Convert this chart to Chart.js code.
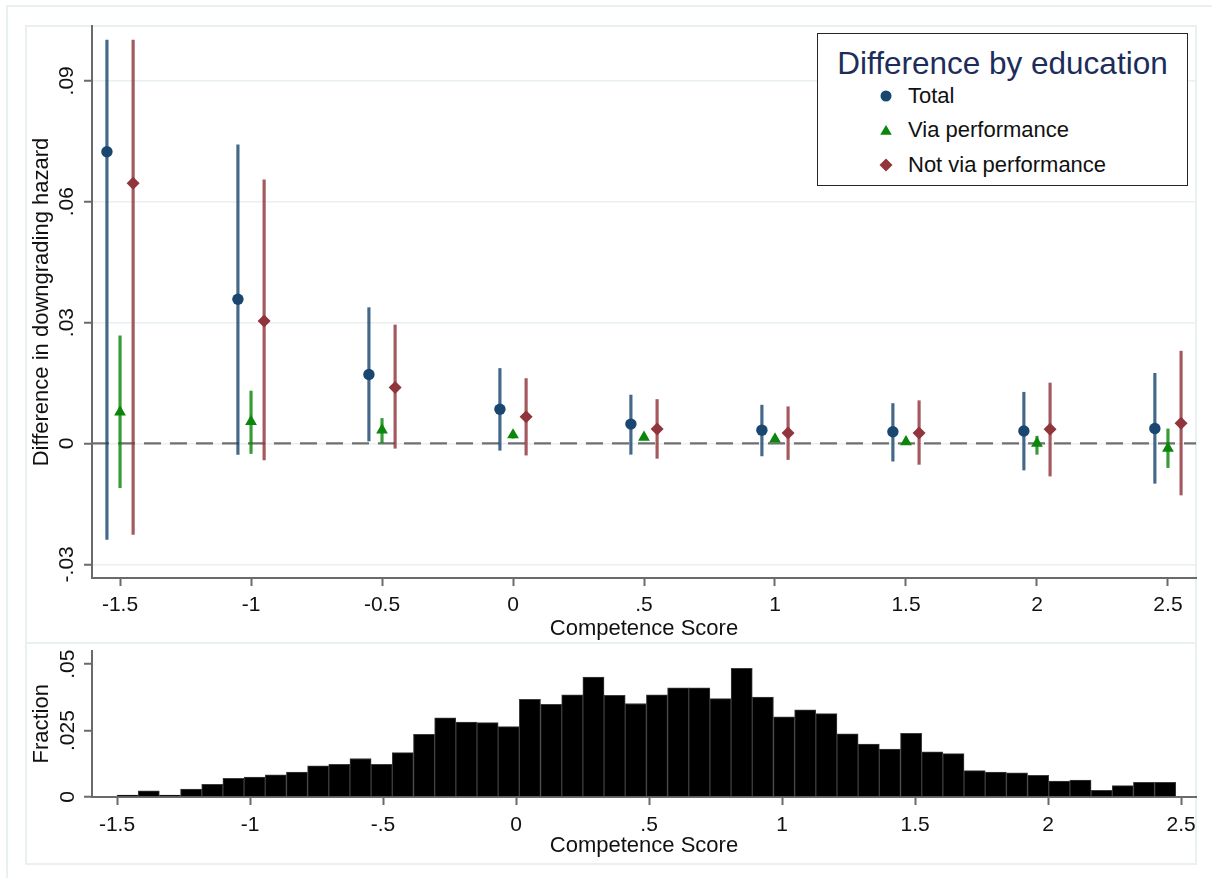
<!DOCTYPE html>
<html>
<head>
<meta charset="utf-8">
<title>Difference by education</title>
<script src="https://cdn.jsdelivr.net/npm/chart.js@4.4.1/dist/chart.umd.min.js"></script>
<style>
    body { margin: 0; background: #fff; font-family: "Liberation Sans", Arial, sans-serif; }
    #page { position: relative; width: 1212px; height: 878px; overflow: hidden; }
    .frame { position: absolute; box-sizing: border-box; border: 2px solid #e8f0f2; }
    #outer { left: 6px; top: 5px; width: 1300px; height: 1000px; }
    #topBox { left: 25px; top: 25px; width: 1172px; height: 619px; }
    #histBox { left: 25px; top: 642px; width: 1172px; height: 223px; }
    canvas { position: absolute; left: 0; }
    #effects { top: 0; }
    #histogram { top: 643px; }
    #legend {
        position: absolute; left: 817px; top: 33px; width: 371px; height: 153px;
        box-sizing: border-box; border: 1.5px solid #262626; background: #fff;
    }
    #legend .lg-title {
        position: absolute; left: 0; right: 0; top: 11px; line-height: 36px;
        text-align: center; font-size: 31.5px; color: #1c2d5c;
    }
    #legend .lg-item {
        position: absolute; left: 0; height: 30px; line-height: 30px;
        font-size: 22px; color: #111;
    }
    #legend .lg-item svg { position: absolute; left: 61px; top: 8px; }
    #legend .lg-item span { position: absolute; left: 90px; white-space: nowrap; }
</style>
</head>
<body>
<div id="page">
    <div class="frame" id="outer"></div>
    <div class="frame" id="topBox"></div>
    <div class="frame" id="histBox"></div>
    <canvas id="effects" width="1212" height="643"></canvas>
    <canvas id="histogram" width="1212" height="235"></canvas>
    <div id="legend"><div class="lg-title">Difference by education</div></div>
</div>
<script>
// ---- Data: effects by competence score ----
const scoreLevels = [-1.5, -1, -0.5, 0, 0.5, 1, 1.5, 2, 2.5];
const dodge = 0.05;

const totalEst = [0.0724, 0.0358, 0.0171, 0.0085, 0.0048, 0.0033, 0.0029, 0.0031, 0.0037];
const totalLo  = [-0.0238, -0.0027, 0.0006, -0.0017, -0.0027, -0.0031, -0.0044, -0.0066, -0.0099];
const totalHi  = [0.1001, 0.0741, 0.0337, 0.0186, 0.0120, 0.0095, 0.0099, 0.0127, 0.0174];

const viaEst = [0.0078, 0.0054, 0.0033, 0.0021, 0.0015, 0.0011, 0.0004, 0.0000, -0.0012];
const viaLo  = [-0.0110, -0.0025, 0.0002, 0.0013, 0.0009, 0.0005, -0.0002, -0.0027, -0.0060];
const viaHi  = [0.0267, 0.0130, 0.0062, 0.0029, 0.0022, 0.0017, 0.0009, 0.0018, 0.0036];

const notViaEst = [0.0646, 0.0304, 0.0139, 0.0066, 0.0036, 0.0026, 0.0026, 0.0035, 0.0050];
const notViaLo  = [-0.0226, -0.0041, -0.0012, -0.0029, -0.0037, -0.0040, -0.0052, -0.0081, -0.0128];
const notViaHi  = [0.1001, 0.0654, 0.0294, 0.0161, 0.0109, 0.0091, 0.0106, 0.0150, 0.0229];

// ---- Data: histogram of competence score ----
const binStart = -1.5;
const binWidth = 0.0796;
const fractions = [
    0.0007, 0.0023, 0.0007, 0.0030, 0.0048, 0.0070, 0.0075, 0.0083, 0.0094, 0.0117,
    0.0123, 0.0145, 0.0123, 0.0167, 0.0236, 0.0298, 0.0282, 0.0280, 0.0265, 0.0368,
    0.0349, 0.0385, 0.0451, 0.0383, 0.0352, 0.0385, 0.0411, 0.0411, 0.0370, 0.0484,
    0.0376, 0.0302, 0.0328, 0.0314, 0.0238, 0.0199, 0.0180, 0.0240, 0.0170, 0.0163,
    0.0099, 0.0094, 0.0091, 0.0082, 0.0060, 0.0064, 0.0025, 0.0043, 0.0055, 0.0055
];

// ---- Ticks ----
const xTickValues = [-1.5, -1, -0.5, 0, 0.5, 1, 1.5, 2, 2.5];
const topXTickLabels = ['-1.5', '-1', '-0.5', '0', '.5', '1', '1.5', '2', '2.5'];
const histXTickLabels = ['-1.5', '-1', '-.5', '0', '.5', '1', '1.5', '2', '2.5'];
const topYTicks = [-0.03, 0, 0.03, 0.06, 0.09];
const topYTickLabels = ['-.03', '0', '.03', '.06', '.09'];
const histYTicks = [0, 0.025, 0.05];
const histYTickLabels = ['0', '.025', '.05'];

// Axis ranges
const topXMin = -1.607, topXMax = 2.607;
const topYMin = -0.0334, topYMax = 0.1036;
const histXMin = -1.594, histXMax = 2.556;
const histYMax = 0.0551;

// ---- Styling ----
const FONT = '"Liberation Sans", Arial, sans-serif';
const INK = '#111';
const AXIS = '#6a6a6a';
const GRID = '#e8f0f2';
const tickFont = { family: FONT, size: 21 };
const titleFont = { family: FONT, size: 22 };

const series = [
    { label: 'Total', est: totalEst, lo: totalLo, hi: totalHi, shift: -dodge,
      color: '#1a476f', ci: 'rgba(26, 71, 111, 0.82)', style: 'circle', radius: 5.7 },
    { label: 'Via performance', est: viaEst, lo: viaLo, hi: viaHi, shift: 0,
      color: '#0a860a', ci: 'rgba(10, 134, 10, 0.82)', style: 'triangle', radius: 6.8 },
    { label: 'Not via performance', est: notViaEst, lo: notViaLo, hi: notViaHi, shift: dodge,
      color: '#90353b', ci: 'rgba(144, 53, 59, 0.82)', style: 'rectRot', radius: 6.5 }
];

function pointsFor(s) {
    return scoreLevels.map((x, i) => ({ x: x + s.shift, y: s.est[i] }));
}

function rangesFor(s) {
    return scoreLevels.map((x, i) => ({ x: x + s.shift, y: [s.lo[i], s.hi[i]] }));
}

// Fixed ticks, labels taken from the arrays above
function fixedTicks(values) {
    return scale => { scale.ticks = values.map(v => ({ value: v })); };
}

function xAxis(min, max, labels, height, tickPad, titlePad) {
    return {
        type: 'linear', min: min, max: max, offset: false,
        afterBuildTicks: fixedTicks(xTickValues),
        afterFit: s => { s.height = height; },
        grid: { drawOnChartArea: false, offset: false, tickLength: 8, tickColor: AXIS, tickWidth: 2 },
        border: { display: true, color: AXIS, width: 2 },
        ticks: { font: tickFont, color: INK, padding: tickPad, autoSkip: false,
                 maxRotation: 0, callback: (v, i) => labels[i] },
        title: { display: true, text: 'Competence Score', font: titleFont, color: INK,
                 padding: { top: 0, bottom: titlePad } }
    };
}

function yAxis(min, max, values, labels, tickPad, text, onChart) {
    return {
        type: 'linear', min: min, max: max,
        afterBuildTicks: fixedTicks(values),
        afterFit: s => { s.width = 92; },
        grid: { drawOnChartArea: onChart, color: GRID, lineWidth: 1.5,
                tickLength: 8, tickColor: AXIS, tickWidth: 2 },
        border: { display: true, color: AXIS, width: 2 },
        ticks: { font: tickFont, color: INK, padding: tickPad, minRotation: 90, maxRotation: 90,
                 crossAlign: 'center', autoSkip: false, callback: (v, i) => labels[i] },
        title: { display: true, text: text, font: titleFont, color: INK,
                 padding: { top: 29, bottom: 0 } }
    };
}

// ---- Top panel: point estimates with confidence intervals ----
const effectDatasets = [];
series.forEach(s => {
    effectDatasets.push({
        type: 'scatter', label: s.label, data: pointsFor(s),
        pointStyle: s.style, pointRadius: s.radius, pointHoverRadius: s.radius,
        backgroundColor: s.color, borderColor: s.color, borderWidth: 0, order: 0
    });
});
series.forEach(s => {
    effectDatasets.push({
        type: 'bar', label: s.label + ' CI', data: rangesFor(s),
        backgroundColor: s.ci, borderWidth: 0, barThickness: 2.5, grouped: false, order: 1
    });
});
effectDatasets.push({
    type: 'line', label: 'zero', data: [{ x: topXMin, y: 0 }, { x: topXMax, y: 0 }],
    borderColor: '#707070', borderWidth: 2.3, borderDash: [17, 9], pointRadius: 0, order: 2
});

new Chart(document.getElementById('effects'), {
    type: 'bar',
    data: { datasets: effectDatasets },
    options: {
        responsive: false,
        animation: false,
        layout: { padding: { left: 0, top: 26, right: 16, bottom: 0 } },
        plugins: { legend: { display: false }, tooltip: { enabled: false } },
        scales: {
            x: xAxis(topXMin, topXMax, topXTickLabels, 65, 7, 0.5),
            y: yAxis(topYMin, topYMax, topYTicks, topYTickLabels, -1,
                     'Difference in downgrading hazard', true)
        }
    }
});

// ---- Bottom panel: histogram ----
new Chart(document.getElementById('histogram'), {
    type: 'bar',
    data: {
        datasets: [{
            label: 'Fraction',
            data: fractions.map((f, i) => ({ x: binStart + (i + 0.5) * binWidth, y: f })),
            backgroundColor: '#000', borderColor: '#3c3c3c', borderWidth: 1,
            barPercentage: 1, categoryPercentage: 1
        }]
    },
    options: {
        responsive: false,
        animation: false,
        layout: { padding: { left: 0, top: 2, right: 16, bottom: 15 } },
        plugins: { legend: { display: false }, tooltip: { enabled: false } },
        scales: {
            x: xAxis(histXMin, histXMax, histXTickLabels, 66, 7.5, 3.5),
            y: yAxis(0, histYMax, histYTicks, histYTickLabels, -5, 'Fraction', false)
        }
    }
});

// ---- Legend box ----
function markerSvg(s) {
    const c = s.color;
    let shape;
    if (s.style === 'circle') {
        shape = `<circle cx="7" cy="7" r="5.5" fill="${c}"/>`;
    } else if (s.style === 'triangle') {
        shape = `<polygon points="7,2 12.8,11.8 1.2,11.8" fill="${c}"/>`;
    } else {
        shape = `<polygon points="7,0.5 13.5,7 7,13.5 0.5,7" fill="${c}"/>`;
    }
    return `<svg width="14" height="14" viewBox="0 0 14 14">${shape}</svg>`;
}

const legendEl = document.getElementById('legend');
const legendRowTops = [47, 81, 116];
series.forEach((s, i) => {
    const row = document.createElement('div');
    row.className = 'lg-item';
    row.style.top = legendRowTops[i] + 'px';
    row.innerHTML = markerSvg(s) + `<span>${s.label}</span>`;
    legendEl.appendChild(row);
});
</script>
</body>
</html>
